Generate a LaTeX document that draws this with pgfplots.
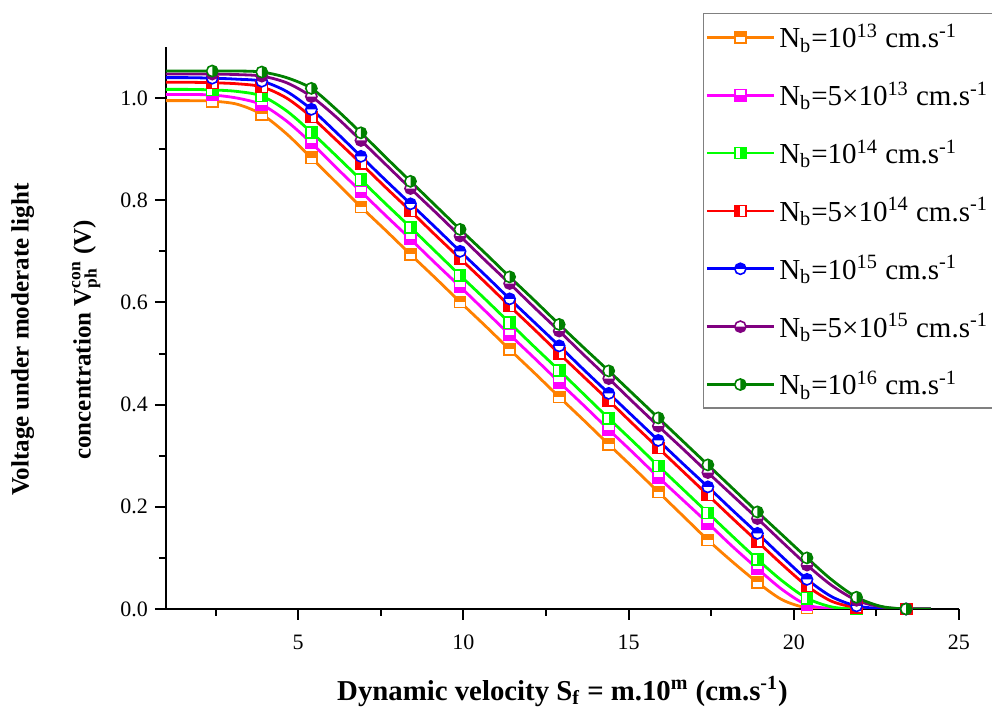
\documentclass[border=0pt]{standalone}
\usepackage{fontspec}
\setmainfont{Liberation Serif}
\usepackage{amsmath}
\usepackage{pgfplots}
\pgfplotsset{compat=1.18}

\definecolor{corange}{RGB}{255,128,0}
\definecolor{cmagenta}{RGB}{255,0,255}
\definecolor{clgreen}{RGB}{0,255,0}
\definecolor{cred}{RGB}{255,0,0}
\definecolor{cblue}{RGB}{0,0,255}
\definecolor{cpurple}{RGB}{128,0,128}
\definecolor{cdgreen}{RGB}{0,128,0}

% half filled squares and circles (Origin style)
\newcommand\halfsq[4]{%
  \begin{pgfscope}\pgfsetfillcolor{white}%
  \pgfpathrectangle{\pgfpoint{-\pgfplotmarksize}{-\pgfplotmarksize}}{\pgfpoint{2\pgfplotmarksize}{2\pgfplotmarksize}}%
  \pgfusepathqfill\end{pgfscope}%
  \pgfpathrectangle{\pgfpoint{#1\pgfplotmarksize}{#2\pgfplotmarksize}}{\pgfpoint{#3\pgfplotmarksize}{#4\pgfplotmarksize}}%
  \pgfusepathqfill
  \pgfpathrectangle{\pgfpoint{-\pgfplotmarksize}{-\pgfplotmarksize}}{\pgfpoint{2\pgfplotmarksize}{2\pgfplotmarksize}}%
  \pgfusepathqstroke}
\newcommand\halfci[2]{%
  \begin{pgfscope}\pgfsetfillcolor{white}%
  \pgfpathcircle{\pgfpointorigin}{\pgfplotmarksize}\pgfusepathqfill\end{pgfscope}%
  \pgfpathmoveto{\pgfpointpolar{#1}{\pgfplotmarksize}}%
  \pgfpatharc{#1}{#2}{\pgfplotmarksize}\pgfpathclose\pgfusepathqfill
  \pgfpathcircle{\pgfpointorigin}{\pgfplotmarksize}\pgfusepathqstroke}
\pgfdeclareplotmark{sqT}{\halfsq{-1}{0}{2}{1}}
\pgfdeclareplotmark{sqB}{\halfsq{-1}{-1}{2}{1}}
\pgfdeclareplotmark{sqR}{\halfsq{0}{-1}{1}{2}}
\pgfdeclareplotmark{sqL}{\halfsq{-1}{-1}{1}{2}}
\pgfdeclareplotmark{ciT}{\halfci{0}{180}}
\pgfdeclareplotmark{ciB}{\halfci{180}{360}}
\pgfdeclareplotmark{ciR}{\halfci{-90}{90}}

\pgfplotstableread{
x     o     m     g     r     b     p     d
0.9   0.995 1.007 1.017 1.031 1.040 1.047 1.053
1.65  0.995 1.007 1.017 1.031 1.040 1.047 1.053
2.4   0.994 1.006 1.016 1.030 1.039 1.047 1.053
3.15  0.988 1.000 1.013 1.028 1.037 1.046 1.053
3.9   0.968 0.987 1.004 1.022 1.033 1.043 1.051
4.65  0.930 0.955 0.975 1.000 1.013 1.030 1.040
5.4   0.883 0.912 0.933 0.963 0.978 1.003 1.019
6.15  0.835 0.864 0.887 0.918 0.933 0.963 0.978
6.9   0.787 0.817 0.840 0.872 0.886 0.917 0.932
7.65  0.741 0.770 0.793 0.825 0.839 0.870 0.884
8.4   0.694 0.724 0.747 0.779 0.793 0.823 0.837
9.15  0.648 0.677 0.700 0.732 0.747 0.777 0.790
9.9   0.601 0.631 0.653 0.686 0.700 0.730 0.743
10.65 0.555 0.584 0.607 0.640 0.654 0.683 0.697
11.4  0.508 0.537 0.560 0.593 0.607 0.637 0.650
12.15 0.462 0.491 0.513 0.547 0.561 0.590 0.604
12.9  0.415 0.444 0.467 0.500 0.515 0.544 0.557
13.65 0.369 0.398 0.420 0.454 0.468 0.497 0.511
14.4  0.322 0.351 0.373 0.408 0.422 0.451 0.466
15.15 0.276 0.305 0.327 0.361 0.376 0.404 0.420
15.9  0.229 0.258 0.280 0.315 0.330 0.358 0.374
16.65 0.182 0.213 0.234 0.269 0.284 0.313 0.328
17.4  0.135 0.168 0.188 0.223 0.239 0.267 0.282
18.15 0.092 0.122 0.142 0.177 0.193 0.222 0.236
18.9  0.052 0.079 0.097 0.132 0.148 0.177 0.190
19.65 0.018 0.038 0.055 0.087 0.102 0.131 0.145
20.4  0.002 0.008 0.021 0.045 0.058 0.086 0.100
21.15 0     0.001 0.004 0.015 0.024 0.046 0.057
21.9  0     0     0     0.003 0.006 0.017 0.023
22.65 0     0     0     0     0.001 0.004 0.005
23.4  0     0     0     0     0     0     0
24.15 0     0     0     0     0     0     0
}\data

\begin{document}
\begin{tikzpicture}
\path[use as bounding box] (-83pt,-50.5pt) rectangle (413pt,304.5pt);
\begin{axis}[
  scale only axis, width=396.5pt, height=281pt,
  xmin=1, xmax=25, ymin=0, ymax=1.1,
  axis x line*=bottom, axis y line*=left,
  axis line style={line width=1.2pt,-},
  xtick={5,10,15,20,25}, minor xtick={2.5,7.5,12.5,17.5,22.5},
  ytick={0,0.2,0.4,0.6,0.8,1.0}, minor ytick={0.1,0.3,0.5,0.7,0.9},
  tick align=outside, major tick length=5.5pt, minor tick length=3.5pt,
  tick style={line width=1pt,black},
  /pgf/number format/assume math mode=true,
  yticklabel style={/pgf/number format/.cd,fixed,fixed zerofill,precision=1},
  xticklabel style={yshift=-4pt},
  ticklabel style={font=\fontsize{11}{11}\selectfont},
  xlabel={Dynamic velocity S\textsubscript{f} = m.10\textsuperscript{m} (cm.s\textsuperscript{-1})},
  ylabel={Voltage under moderate light\\concentration $\text{V}^{\text{con}}_{\text{ph}}$ (V)},
  xlabel style={font=\bfseries\fontsize{14.4}{15}\selectfont, at={(axis description cs:0.5,-0.147)}, anchor=center},
  ylabel style={font=\bfseries\fontsize{12.5}{31}\selectfont, align=center, at={(axis description cs:-0.139,0.479)}, anchor=center},
  legend style={at={(axis description cs:0.677,1.060)}, anchor=north west,
    draw=gray, line width=0.6pt, font=\fontsize{14.5}{15}\selectfont,
    row sep=11.5pt, inner xsep=1pt, inner ysep=3pt},
  legend cell align=left,
  legend image code/.code={\draw[#1,line width=1.4pt,mark repeat=2,mark phase=2] plot coordinates {(0pt,0pt) (16.75pt,0pt) (33.5pt,0pt)};},
  every axis plot/.append style={line width=1.4pt, smooth, mark repeat=2, mark phase=2, mark size=2.8pt, mark options={line width=0.8pt}},
]
\addplot[corange, mark=sqT] table[x=x,y=o]{\data};
\addlegendentry{N\textsubscript{b}=10\textsuperscript{13} cm.s\textsuperscript{-1}}
\addplot[cmagenta, mark=sqB] table[x=x,y=m]{\data};
\addlegendentry{N\textsubscript{b}=5×10\textsuperscript{13} cm.s\textsuperscript{-1}}
\addplot[clgreen, mark=sqR] table[x=x,y=g]{\data};
\addlegendentry{N\textsubscript{b}=10\textsuperscript{14} cm.s\textsuperscript{-1}}
\addplot[cred, mark=sqL] table[x=x,y=r]{\data};
\addlegendentry{N\textsubscript{b}=5×10\textsuperscript{14} cm.s\textsuperscript{-1}}
\addplot[cblue, mark=ciT] table[x=x,y=b]{\data};
\addlegendentry{N\textsubscript{b}=10\textsuperscript{15} cm.s\textsuperscript{-1}}
\addplot[cpurple, mark=ciB] table[x=x,y=p]{\data};
\addlegendentry{N\textsubscript{b}=5×10\textsuperscript{15} cm.s\textsuperscript{-1}}
\addplot[cdgreen, mark=ciR] table[x=x,y=d]{\data};
\addlegendentry{N\textsubscript{b}=10\textsuperscript{16} cm.s\textsuperscript{-1}}
\end{axis}
\end{tikzpicture}
\end{document}
